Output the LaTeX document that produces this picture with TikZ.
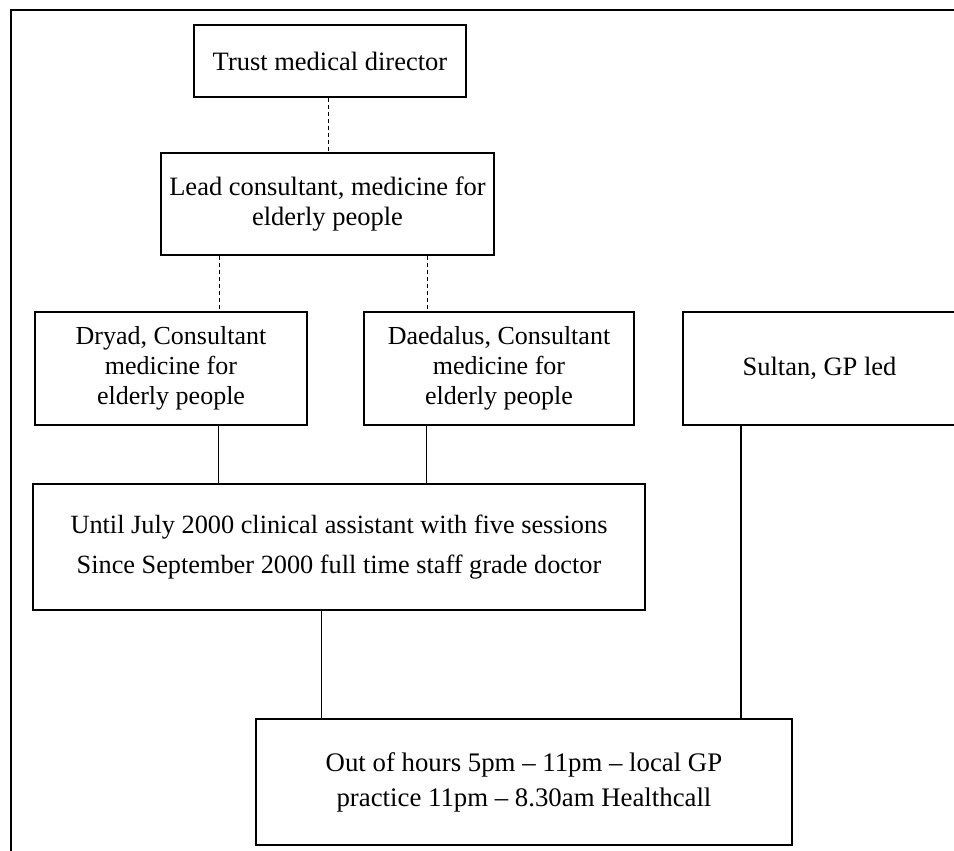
\documentclass[tikz,border=0pt]{standalone}
\usepackage{fontspec}
\setmainfont{Liberation Serif}
\usetikzlibrary{calc}

\begin{document}
\begin{tikzpicture}[x=1pt,y=-1pt,
  post/.style={draw,line width=1.1pt,inner sep=0pt,align=center},
  link/.style={line width=0.7pt},
  dotlink/.style={line width=0.7pt,dash pattern=on 4pt off 3pt}]
  \useasboundingbox (0,0) rectangle (954,851);
  \clip (0,0) rectangle (954,851);

  % frame (top and left only)
  \draw[line width=1.1pt] (11,851) -- (11,10) -- (954,10);

  \node[post,minimum width=272pt,minimum height=72pt,
        font=\fontsize{26.5}{30}\selectfont] (trust) at (330,61) {Trust medical director};
  \node[post,minimum width=333pt,minimum height=102pt,
        font=\fontsize{26.5}{30}\selectfont] (lead) at (327.5,204)
        {Lead consultant, medicine for\\elderly people};
  \node[post,minimum width=272pt,minimum height=113pt,
        font=\fontsize{26}{30}\selectfont] (dryad) at (171,368.5)
        {Dryad, Consultant\\medicine for\\elderly people};
  \node[post,minimum width=270pt,minimum height=113pt,
        font=\fontsize{26}{30}\selectfont] (daedalus) at (499,368.5)
        {Daedalus, Consultant\\medicine for\\elderly people};
  \node[post,minimum width=273pt,minimum height=113pt,
        font=\fontsize{26.5}{30}\selectfont] (sultan) at (819.5,368.5) {Sultan, GP led};
  \node[post,minimum width=612pt,minimum height=126pt,
        font=\fontsize{26.3}{40}\selectfont] (until) at (339,547)
        {Until July 2000 clinical assistant with five sessions\\
         Since September 2000 full time staff grade doctor};
  \node[post,minimum width=536pt,minimum height=126pt,
        font=\fontsize{26.8}{35}\selectfont] (out) at (524,782)
        {Out of hours 5pm -- 11pm -- local GP\\
         practice 11pm -- 8.30am Healthcall};

  % connector columns
  \coordinate (c1) at (328,0);
  \coordinate (c2) at (219,0);
  \coordinate (c3) at (427,0);
  \coordinate (c4) at (218,0);
  \coordinate (c5) at (426,0);
  \coordinate (c6) at (321,0);
  \coordinate (c7) at (741,0);

  \draw[dotlink] (c1 |- trust.south) -- (c1 |- lead.north);
  \draw[dotlink] (c2 |- lead.south) -- (c2 |- dryad.north);
  \draw[dotlink] (c3 |- lead.south) -- (c3 |- daedalus.north);
  \draw[link] (c4 |- dryad.south) -- (c4 |- until.north);
  \draw[link] (c5 |- daedalus.south) -- (c5 |- until.north);
  \draw[link] (c6 |- until.south) -- (c6 |- out.north);
  \draw[line width=1.2pt] (c7 |- sultan.south) -- (c7 |- out.north);
\end{tikzpicture}
\end{document}
